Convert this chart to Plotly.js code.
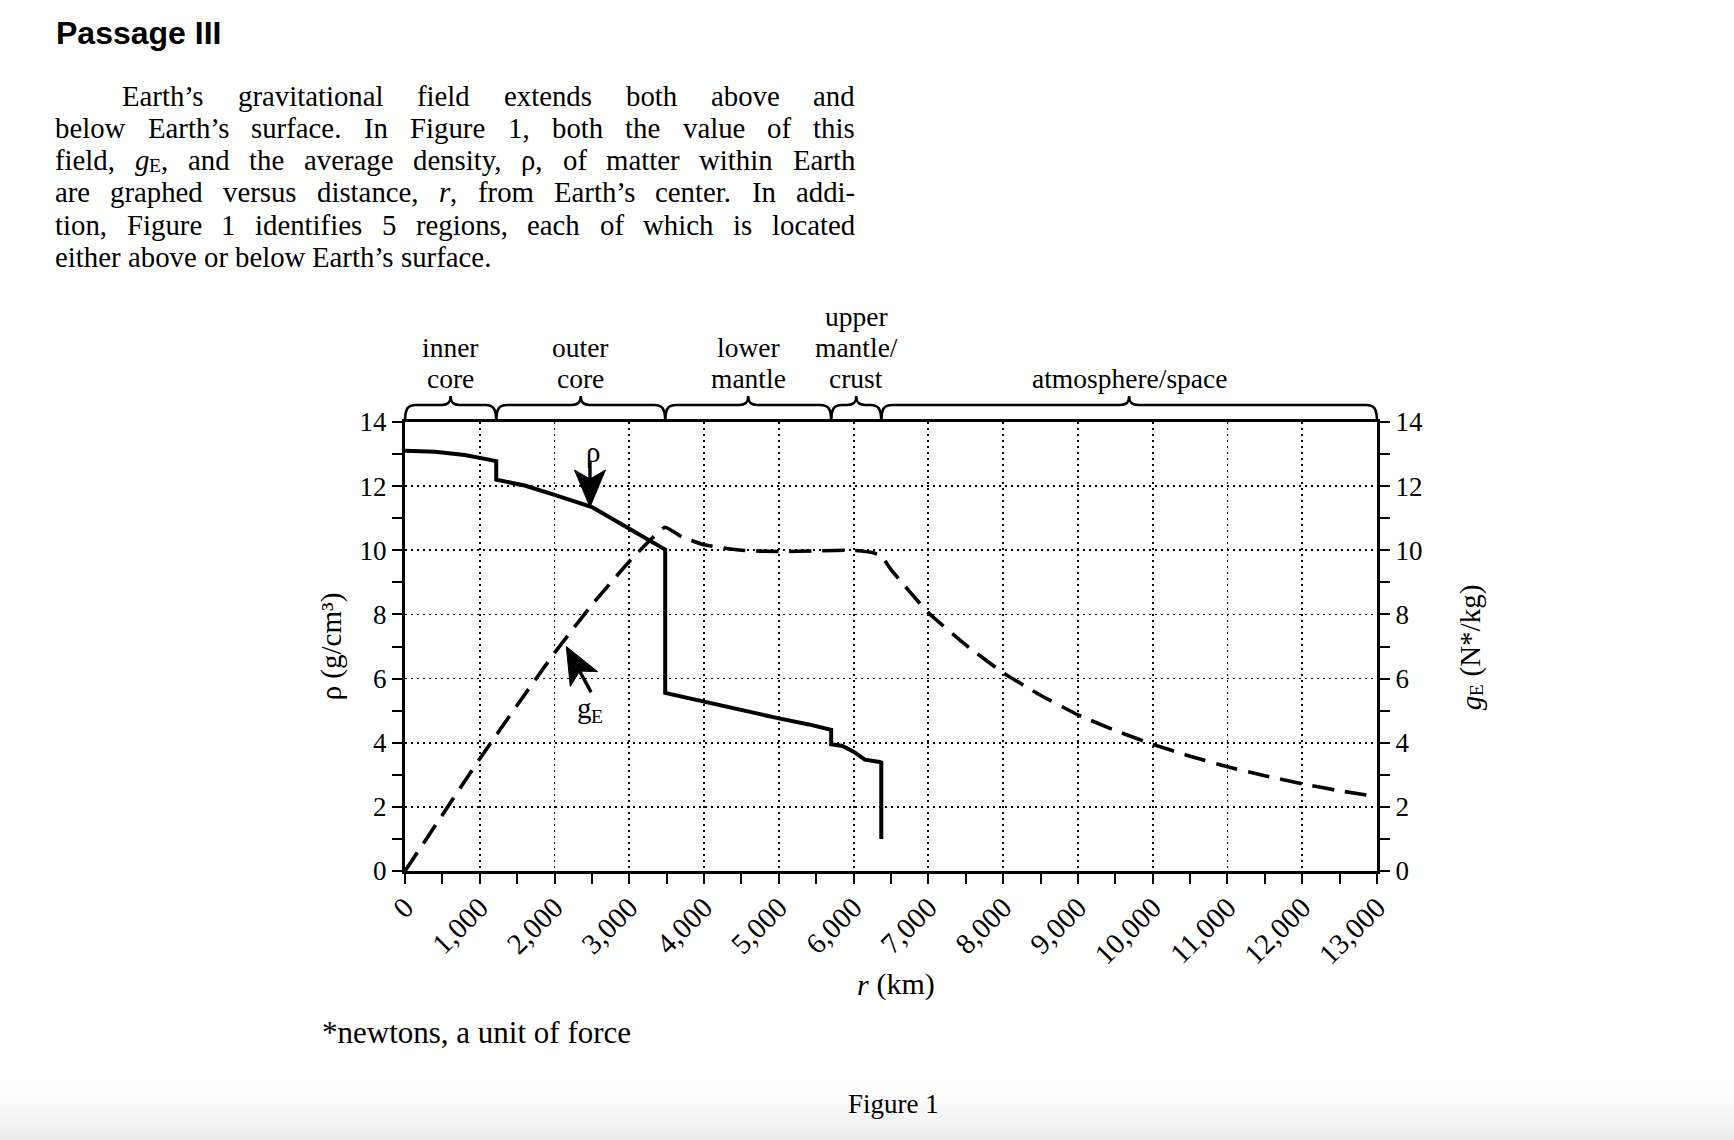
<!DOCTYPE html>
<html><head><meta charset="utf-8">
<script src="https://cdn.plot.ly/plotly-3.0.1.min.js"></script>
<style>html,body{margin:0;padding:0;background:#fff}#chart{width:1734px;height:1140px}</style>
</head><body><div id="chart"></div>
<script>
// ---- data ----
const rDensity = [0, 400, 800, 1000, 1220, 1220, 1600, 2000, 2500, 3000, 3280, 3480, 3480, 4000, 4500, 5000, 5400, 5700, 5700, 5850, 6000, 6150, 6350, 6370, 6370];
const density  = [13.1, 13.07, 12.97, 12.88, 12.78, 12.2, 12.02, 11.73, 11.35, 10.67, 10.31, 10.02, 5.55, 5.27, 5.02, 4.76, 4.57, 4.4, 3.95, 3.9, 3.72, 3.47, 3.4, 3.38, 1.0];
const rGravity = [0, 500, 1000, 1500, 2000, 2500, 3000, 3250, 3480, 3700, 4000, 4500, 5000, 5500, 6000, 6250, 6370, 6500, 7000, 7500, 8000, 8500, 9000, 9500, 10000, 10500, 11000, 11500, 12000, 12500, 13000];
const gravity  = [0, 1.75, 3.5, 5.17, 6.8, 8.3, 9.65, 10.25, 10.72, 10.42, 10.17, 10.0, 9.96, 9.98, 10.0, 9.93, 9.82, 9.4, 8.05, 7.05, 6.18, 5.48, 4.87, 4.38, 3.95, 3.58, 3.25, 2.97, 2.72, 2.5, 2.32];
const regionNames  = ['inner<br>core', 'outer<br>core', 'lower<br>mantle', 'upper<br>mantle/<br>crust', 'atmosphere/space'];
const regionBounds = [0, 1220, 3480, 5700, 6370, 13000];
const xTickVals = [0,1000,2000,3000,4000,5000,6000,7000,8000,9000,10000,11000,12000,13000];
const yTickVals = [0,2,4,6,8,10,12,14];
const xTitle = '<i>r</i> (km)';
const yTitle = '\u03c1 (g/cm\u00b3)';
const y2Title = '<i>g</i><sub>E</sub> (N*/kg)';
const passageLines = [
  'Earth\u2019s gravitational field extends both above and',
  'below Earth\u2019s surface. In Figure 1, both the value of this',
  'field, <i>g</i><sub>E</sub>, and the average density, \u03c1, of matter within Earth',
  'are graphed versus distance, <i>r</i>, from Earth\u2019s center. In addi-',
  'tion, Figure 1 identifies 5 regions, each of which is located',
  'either above or below Earth\u2019s surface.'
];
// arrow call-outs: [r, value] of the pointed-at curve point
const rhoPointer = [2474, 11.35];
const gPointer   = [2157, 7.0];

// ---- geometry helpers (plot area in page pixels) ----
const L = 405, T = 422, W = 972, H = 449;
const PX = x => (x - L) / W;
const PY = y => (T + H - y) / H;
const XR = r => L + r / 13000 * W;
const YR = v => T + H - v / 14 * H;
const FAM = 'Liberation Serif';
const SERIF = 'Liberation Serif, Times New Roman, serif';
const SUBF = 0.68;

const ctx = document.createElement('canvas').getContext('2d');
function parseWord(w) {
  const out = []; let it = false, sub = false;
  w.split(/(<[^>]+>)/).forEach(tok => {
    if (tok === '<i>') it = true; else if (tok === '</i>') it = false;
    else if (tok === '<sub>') sub = true; else if (tok === '</sub>') sub = false;
    else if (tok) out.push({t: tok, it: it, sub: sub});
  });
  return out;
}
function pieceSize(p, size) { return p.sub ? size * SUBF : size; }
function measurePiece(p, size) {
  ctx.font = (p.it ? 'italic ' : '') + pieceSize(p, size) + 'px "' + FAM + '"';
  return ctx.measureText(p.t).width;
}
const measureAll = (ps, size) => ps.reduce((s, p) => s + measurePiece(p, size), 0);
const annotations = [];
function pieceAnn(p, size, extra) {
  return Object.assign({xref: 'paper', yref: 'paper', showarrow: false, text: p.t, borderpad: 0, borderwidth: 0,
    font: {family: SERIF, size: pieceSize(p, size), style: p.it ? 'italic' : 'normal', color: '#000'}}, extra);
}
// horizontal run of styled pieces starting at page x, centred on page y
function addPieces(pieces, x, yc, size, subDy) {
  pieces.forEach(p => {
    annotations.push(pieceAnn(p, size, {x: PX(x), y: PY(yc + (p.sub ? subDy : 0)), xanchor: 'left', yanchor: 'middle'}));
    x += measurePiece(p, size);
  });
  return x;
}
// vertical (reading upwards) run of styled pieces centred on page point
function addPiecesUp(pieces, xc, yc, size, subDx) {
  let y = yc + measureAll(pieces, size) / 2;
  pieces.forEach(p => {
    annotations.push(pieceAnn(p, size, {x: PX(xc + (p.sub ? subDx : 0)), y: PY(y), xanchor: 'center', yanchor: 'bottom', textangle: -90}));
    y -= measurePiece(p, size);
  });
}

const traces = [
  {x: rDensity, y: density, type: 'scatter', mode: 'lines', name: '\u03c1',
   line: {color: '#000', width: 4}, yaxis: 'y'},
  {x: rGravity, y: gravity, type: 'scatter', mode: 'lines', name: 'gE',
   line: {color: '#000', width: 3.6, dash: '22px,11px', shape: 'spline', smoothing: 0.4}, yaxis: 'y2'}
];

const shapes = [];
const toPath = pts => pts.map(p => {
  let s = p[0];
  for (let i = 1; i < p.length; i += 2) s += (i > 1 ? ' ' : '') + PX(p[i]).toFixed(5) + ',' + PY(p[i + 1]).toFixed(5);
  return s;
}).join(' ');
// braces above the plot
function bracePath(r0, r1) {
  const x0 = XR(r0), x1 = XR(r1), xm = (x0 + x1) / 2;
  const yA = T, yL = T - 17, yP = T - 26, rr = 11;
  return toPath([
    ['M', x0, yA],
    ['C', x0, yL + 3, x0 + 3, yL, x0 + rr, yL],
    ['L', xm - 9, yL],
    ['C', xm - 2, yL, xm, yL - 3, xm, yP],
    ['C', xm, yL - 3, xm + 2, yL, xm + 9, yL],
    ['L', x1 - rr, yL],
    ['C', x1 - 3, yL, x1, yL + 3, x1, yA]
  ]);
}
for (let i = 0; i < regionNames.length; i++) {
  shapes.push({type: 'path', xref: 'paper', yref: 'paper', path: bracePath(regionBounds[i], regionBounds[i + 1]),
    line: {color: '#000', width: 2.6}, fillcolor: 'rgba(0,0,0,0)'});
}
// arrows (heavy notched heads) pointing at the curves
function addArrow(tipX, tipY, dx, dy, tail) {
  const len = Math.hypot(dx, dy), ux = dx / len, uy = dy / len, px = -uy, py = ux;
  const hl = 37, hw = 15.5, notch = 9;
  const bx = tipX + hl * ux, by = tipY + hl * uy;
  const nx = tipX + (hl - notch) * ux, ny = tipY + (hl - notch) * uy;
  shapes.push({type: 'path', xref: 'paper', yref: 'paper', fillcolor: '#000', line: {color: '#000', width: 1},
    path: toPath([['M', tipX, tipY], ['L', bx + hw * px, by + hw * py], ['L', nx, ny], ['L', bx - hw * px, by - hw * py]]) + ' Z'});
  shapes.push({type: 'line', xref: 'paper', yref: 'paper', x0: PX(nx), y0: PY(ny), x1: PX(tipX + tail * ux), y1: PY(tipY + tail * uy),
    line: {color: '#000', width: 3.4}});
}
addArrow(XR(rhoPointer[0]), YR(rhoPointer[1]), 0, -1, 46);
addArrow(XR(gPointer[0]), YR(gPointer[1]), 25, 46, 52);
// grey fade at the bottom of the page
const fade = ['#fefefe','#fdfdfd','#fcfcfc','#fbfbfb','#f9f9f9','#f7f7f7','#f5f5f5','#f3f3f3','#f0f0f0','#eeeeee','#ececec'];
for (let i = 0; i < fade.length; i++) {
  shapes.push({type: 'rect', xref: 'paper', yref: 'paper', layer: 'below', x0: PX(0), x1: PX(1734),
    y0: PY(1085 + i * 5), y1: PY(1090 + i * 5 + (i === fade.length - 1 ? 5 : 0)), fillcolor: fade[i], line: {width: 0}});
}

// heading
annotations.push({xref: 'paper', yref: 'paper', x: PX(54), y: PY(33), xanchor: 'left', yanchor: 'middle', showarrow: false,
  text: 'Passage III', font: {family: 'Liberation Sans, Arial, sans-serif', size: 32, weight: 700, color: '#000'}});
// justified passage, placed word by word
const lineY = [96, 128, 160, 192, 224.5, 256.5];
const PSIZE = 28.8;
passageLines.forEach((line, i) => {
  const x0 = i === 0 ? 122 : 55, target = 855 - x0;
  const words = line.split(' ').map(parseWord);
  const widths = words.map(ps => measureAll(ps, PSIZE));
  const total = widths.reduce((a, b) => a + b, 0);
  const gap = i < passageLines.length - 1 ? (target - total) / (words.length - 1) : measurePiece({t: ' '}, PSIZE);
  let x = x0;
  words.forEach((ps, j) => { addPieces(ps, x, lineY[i], PSIZE, 5); x += widths[j] + gap; });
});
// region labels, one annotation per printed line (tight leading as in the figure)
const rowY = [316, 347, 378];
regionNames.forEach((t, i) => {
  const parts = t.split('<br>');
  const xc = (XR(regionBounds[i]) + XR(regionBounds[i + 1])) / 2;
  parts.forEach((p, j) => {
    annotations.push({xref: 'paper', yref: 'paper', x: PX(xc), y: PY(rowY[3 - parts.length + j]), xanchor: 'center', yanchor: 'middle',
      showarrow: false, text: p, font: {family: SERIF, size: 27.5, color: '#000'}});
  });
});
// curve labels
annotations.push({xref: 'paper', yref: 'paper', x: PX(593), y: PY(452), xanchor: 'center', yanchor: 'middle', showarrow: false,
  text: '\u03c1', font: {family: SERIF, size: 29, color: '#000'}});
(function () {
  const ps = parseWord('g<sub>E</sub>');
  addPieces(ps, 590 - measureAll(ps, 29) / 2, 708, 29, 8);
})();
// axis titles with italic / subscript parts
(function () {
  const ps = parseWord(xTitle);
  addPieces(ps, 896 - measureAll(ps, 30) / 2, 984, 30, 6);
  addPiecesUp(parseWord(y2Title), 1471, 648, 29, 5);
})();
// footnote & caption
annotations.push({xref: 'paper', yref: 'paper', x: PX(320), y: PY(1032), xanchor: 'left', yanchor: 'middle', showarrow: false,
  text: '*newtons, a unit of force', font: {family: SERIF, size: 31, color: '#000'}});
annotations.push({xref: 'paper', yref: 'paper', x: PX(893), y: PY(1104), xanchor: 'center', yanchor: 'middle', showarrow: false,
  text: 'Figure 1', font: {family: SERIF, size: 27, color: '#000'}});

const axisCommon = {
  ticks: 'outside', ticklen: 10, tickwidth: 2, tickcolor: '#000',
  showline: true, linewidth: 3, linecolor: '#000', zeroline: false,
  tickfont: {family: SERIF, size: 27, color: '#000'}
};
const minorY = {dtick: 1, tick0: 0, ticks: 'outside', ticklen: 10, tickwidth: 2, tickcolor: '#000', showgrid: false};
const layout = {
  width: 1734, height: 1140,
  margin: {l: L, r: 1734 - L - W, t: T, b: 1140 - T - H, pad: 0},
  paper_bgcolor: '#fff', plot_bgcolor: '#fff', showlegend: false,
  font: {family: SERIF, color: '#000', size: 26},
  xaxis: Object.assign({}, axisCommon, {
    range: [0, 13000], tickvals: xTickVals, tickformat: ',d', tickangle: -45, mirror: true,
    showgrid: true, gridcolor: '#000', gridwidth: 1.8, griddash: '2px,4px',
    minor: {dtick: 500, tick0: 0, ticks: 'outside', ticklen: 10, tickwidth: 2, tickcolor: '#000', showgrid: false},
    tickfont: {family: SERIF, size: 29, color: '#000'}, ticklabelstandoff: -5
  }),
  yaxis: Object.assign({}, axisCommon, {
    range: [0, 14], tickvals: yTickVals, showgrid: true, gridcolor: '#000', gridwidth: 1.8, griddash: '2px,4px',
    minor: minorY, ticklabelstandoff: 0,
    title: {text: yTitle, font: {family: SERIF, size: 29, color: '#000'}, standoff: 10}
  }),
  yaxis2: Object.assign({}, axisCommon, {
    overlaying: 'y', side: 'right', range: [0, 14], tickvals: yTickVals, showgrid: false,
    minor: minorY, ticklabelstandoff: 0
  }),
  shapes: shapes,
  annotations: annotations
};
Plotly.newPlot('chart', traces, layout, {displayModeBar: false, staticPlot: true});
</script></body></html>
